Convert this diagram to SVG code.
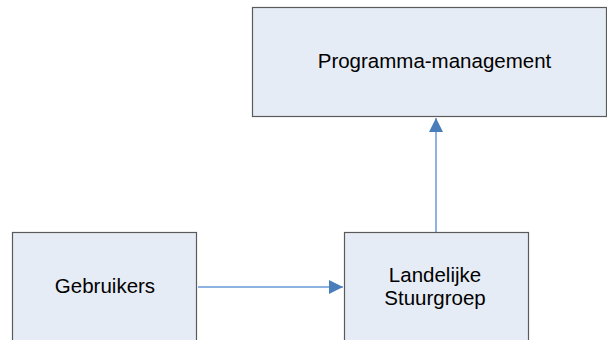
<svg xmlns="http://www.w3.org/2000/svg" width="607" height="340" viewBox="0 0 607 340">
  <style>
    .box { fill: #e6ecf6; stroke: #5a5a5a; stroke-width: 1.2; }
    .label { font-family: "Liberation Sans", Arial, sans-serif; font-size: 20.5px; fill: #000; text-anchor: middle; }
    .link { stroke: #8db3e2; stroke-width: 2; fill: none; marker-end: url(#arrow); }
  </style>
  <defs>
    <marker id="arrow" viewBox="0 0 10 10" refX="10" refY="5" markerUnits="userSpaceOnUse" markerWidth="14" markerHeight="14" orient="auto">
      <path d="M0,0 L10,5 L0,10 Z" fill="#4a7ebb"/>
    </marker>
  </defs>
  <rect width="607" height="340" fill="#ffffff"/>

  <g id="connectors">
    <line class="link" x1="198" y1="287" x2="343" y2="287"/>
    <line class="link" x1="436" y1="232" x2="436" y2="118"/>
  </g>

  <g id="programma-management">
    <rect class="box" x="252.5" y="7.5" width="354" height="109"/>
    <text class="label" x="434.5" y="68">Programma-management</text>
  </g>

  <g id="gebruikers">
    <rect class="box" x="12.5" y="232.5" width="184" height="110"/>
    <text class="label" x="105" y="293">Gebruikers</text>
  </g>

  <g id="landelijke-stuurgroep">
    <rect class="box" x="344.5" y="232.5" width="184" height="110"/>
    <text class="label" x="435" y="282">Landelijke</text>
    <text class="label" x="435" y="305">Stuurgroep</text>
  </g>
</svg>
